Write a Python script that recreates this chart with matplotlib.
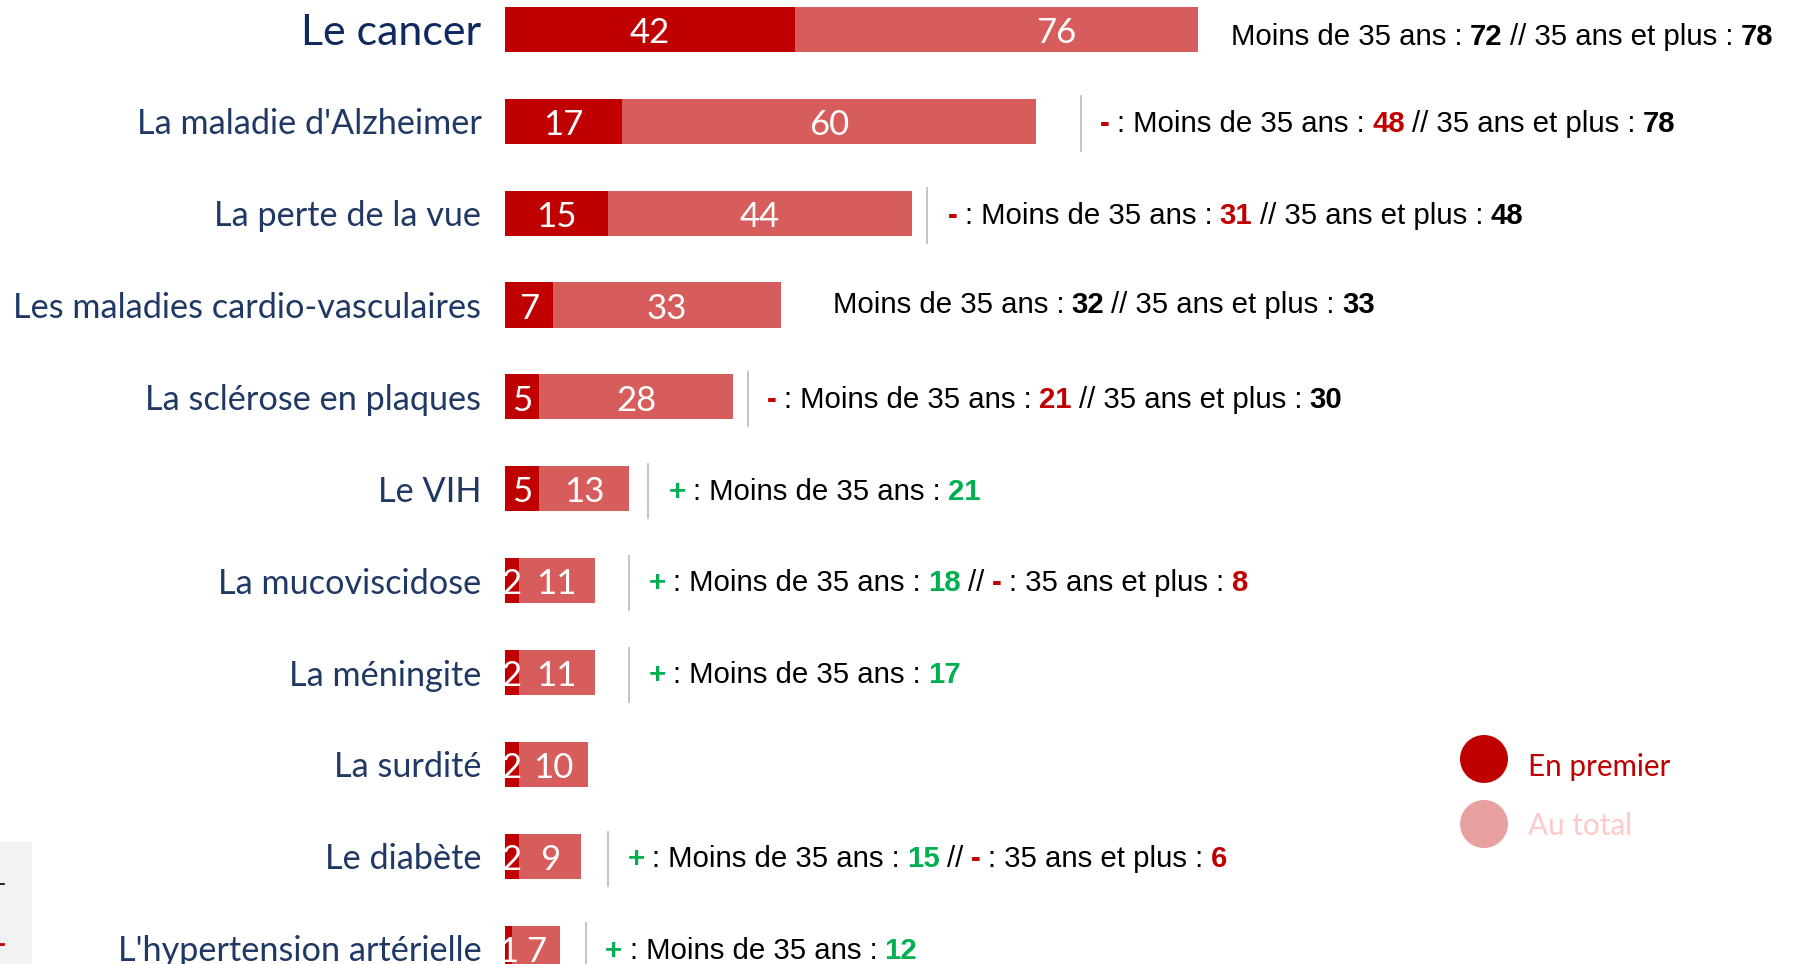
import matplotlib
matplotlib.use('Agg')
import matplotlib.pyplot as plt
from matplotlib.patches import Circle, Rectangle
from matplotlib import font_manager

# data
categories = ["Le cancer", "La maladie d'Alzheimer", "La perte de la vue",
              "Les maladies cardio-vasculaires", "La sclérose en plaques", "Le VIH",
              "La mucoviscidose", "La méningite", "La surdité", "Le diabète",
              "L'hypertension artérielle"]
en_premier = [42, 17, 15, 7, 5, 5, 2, 2, 2, 2, 1]
au_total = [76, 60, 44, 33, 28, 13, 11, 11, 10, 9, 7]
moins_35 = [72, 48, 31, 32, 21, 21, 18, 17, None, 15, 12]
moins_35_sig = ['', '-', '-', '', '-', '+', '+', '+', '', '+', '+']
plus_35 = [78, 78, 48, 33, 30, None, 8, None, None, 6, None]
plus_35_sig = ['', '', '', '', '', '', '-', '', '', '-', '']

# layout (x in bar units)
sep_x = [None, 83.5, 61.2, None, 35.2, 20.8, 18, 18, None, 15, 11.7]
note_x = [105.3, 86.3, 64.2, 47.5, 38, 23.7, 20.8, 20.8, None, 17.8, 14.5]
note_dy = [0.08, 0.03, 0.03, 0.0, 0.03, 0.03, 0.03, 0.03, 0.03, 0.03, 0.03]

dark = '#C00000'
light = '#D75D5D'
green = '#00B050'
navy = '#1F3864'
sig_color = {'+': green, '-': dark, '': 'black'}

names = {f.name for f in font_manager.fontManager.ttflist}
note_font = 'Liberation Sans Narrow' if 'Liberation Sans Narrow' in names else 'Liberation Sans'
lab_font = 'Lato'
note_size = 21.2

W, H = 1801, 964
fig = plt.figure(figsize=(W / 100, H / 100), dpi=100)

# pixel overlay for legend and the cropped box on the left
lay = fig.add_axes([0, 0, 1, 1], zorder=0)
lay.set_xlim(0, W)
lay.set_ylim(H, 0)
lay.axis('off')
lay.add_patch(Rectangle((0, 842), 32, H - 842, color='#F2F2F2', lw=0))
lay.plot([0, 4], [884, 884], color='black', lw=1.2)
lay.plot([0, 3], [944, 944], color=dark, lw=2)
lay.add_patch(Circle((1484, 759), 24, color=dark, lw=0))
lay.add_patch(Circle((1484, 824), 24, color='#E8A0A0', lw=0))
lay.text(1528, 767, 'En premier', color=dark, fontsize=21.3, family=lab_font, va='center')
lay.text(1528, 826, 'Au total', color='#FFC9C9', fontsize=21.3, family=lab_font, va='center')

ax = fig.add_axes([505 / W, 0, (1198 - 505) / W, 1], zorder=1)
ax.patch.set_alpha(0)
n = len(categories)
rows = list(range(n))
ax.barh(rows, en_premier, height=0.49, color=dark, lw=0)
ax.barh(rows, au_total, left=en_premier, height=0.49, color=light, lw=0)
ax.set_xlim(0, 100.5)
ax.set_ylim(10.171, -0.319)
for s in ax.spines.values():
    s.set_visible(False)
ax.set_xticks([])
ax.set_yticks(rows, labels=categories)
ax.tick_params(axis='y', length=0, pad=17)
for i, lab in enumerate(ax.get_yticklabels()):
    lab.set_family(lab_font)
    lab.set_color(navy)
    lab.set_fontsize(24.7)
    if i == 0:
        lab.set_fontsize(31)
        lab.set_color('#0E2A5E')

for i in rows:
    ax.text(en_premier[i] / 2, i + 0.04, str(en_premier[i]), color='white',
            fontsize=25, family=lab_font, ha='center', va='center', clip_on=False)
    ax.text(en_premier[i] + au_total[i] / 2, i + 0.04, str(au_total[i]), color='white',
            fontsize=25, family=lab_font, ha='center', va='center', clip_on=False)
    if sep_x[i] is not None:
        ax.plot([sep_x[i], sep_x[i]], [i - 0.27, i + 0.32], color='#BFBFBF', lw=1.3, clip_on=False)

    if moins_35[i] is None:
        continue
    s1 = moins_35_sig[i]
    parts = []
    if s1:
        parts += [(s1, sig_color[s1], True), (': Moins de 35 ans :', 'black', False)]
    else:
        parts += [('Moins de 35 ans :', 'black', False)]
    parts += [(str(moins_35[i]), sig_color[s1], True)]
    if plus_35[i] is not None:
        s2 = plus_35_sig[i]
        if s2:
            parts += [('//', 'black', False), (s2, sig_color[s2], True),
                      (': 35 ans et plus :', 'black', False)]
        else:
            parts += [('// 35 ans et plus :', 'black', False)]
        parts += [(str(plus_35[i]), sig_color[s2], True)]

    txt, col, bold = parts[0]
    prev = ax.text(note_x[i], i + note_dy[i], txt, color=col, fontsize=note_size,
                   family=note_font, weight='bold' if bold else 'normal',
                   ha='left', va='center', clip_on=False)
    for txt, col, bold in parts[1:]:
        prev = ax.annotate(txt, xy=(1, 0), xycoords=prev, xytext=(note_size * 0.25, 0),
                           textcoords='offset points', color=col, fontsize=note_size,
                           family=note_font, weight='bold' if bold else 'normal',
                           ha='left', va='bottom')

fig.savefig('out.png', dpi=100)
